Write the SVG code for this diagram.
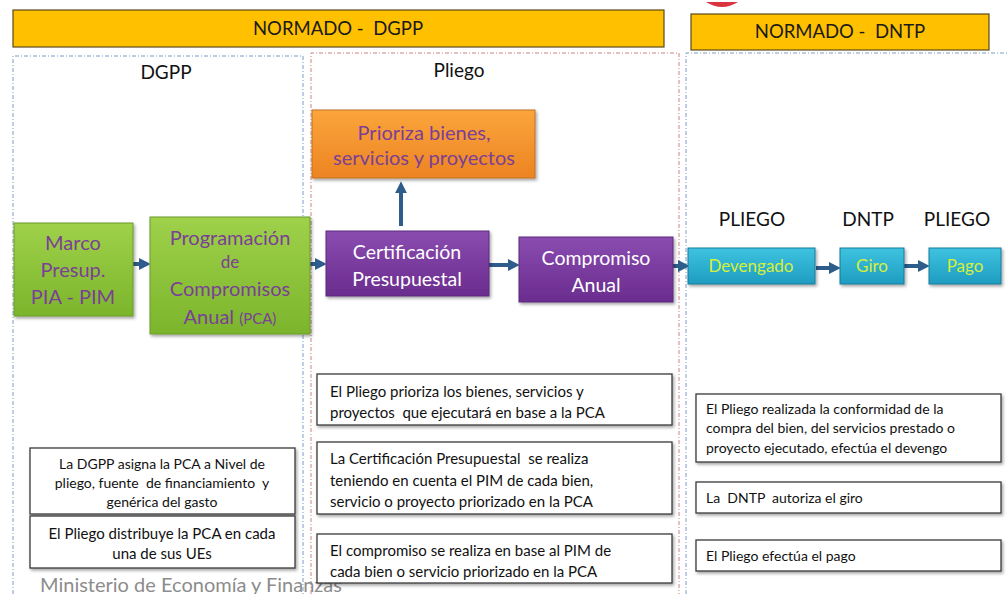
<svg xmlns="http://www.w3.org/2000/svg" width="1008" height="594" viewBox="0 0 1008 594">
<style>
text{font-family:Lato,"Noto Sans","Liberation Sans",sans-serif;white-space:pre}
.hdr{fill:#FFC000;stroke:#5a4a1a;stroke-width:1.2}
.ht{font-size:18.5px;fill:#1a1a1a;text-anchor:middle}
.col{fill:none;stroke-width:1;stroke-dasharray:4 2 1 2}
.lbl{font-size:19px;fill:#111;text-anchor:middle}
.gt{font-size:20px;fill:#7b3f96;text-anchor:middle}
.wt{font-size:19.5px;fill:#fff;text-anchor:middle}
.ct{font-size:17px;fill:#d4f03c;text-anchor:middle}
.nb{fill:#fff;stroke:#3a3a3a;stroke-width:1.3}
.nt{font-size:14px;fill:#111}
.ntc{font-size:14px;fill:#111;text-anchor:middle}
.con{stroke:#2e5d8c;stroke-width:4;fill:none;marker-end:url(#ah)}
</style>
<defs>
<marker id="ah" viewBox="0 0 10 10" refX="6" refY="5" markerWidth="3" markerHeight="3" orient="auto" markerUnits="strokeWidth"><path d="M0,0L10,5L0,10z" fill="#2e5d8c"/></marker>
<linearGradient id="gG" x1="0" y1="0" x2="0" y2="1"><stop offset="0" stop-color="#9fd14a"/><stop offset="1" stop-color="#7bb52c"/></linearGradient>
<linearGradient id="gP" x1="0" y1="0" x2="0" y2="1"><stop offset="0" stop-color="#8a4cb0"/><stop offset="1" stop-color="#6a2c8e"/></linearGradient>
<linearGradient id="gO" x1="0" y1="0" x2="0" y2="1"><stop offset="0" stop-color="#fba53c"/><stop offset="1" stop-color="#ec8422"/></linearGradient>
<linearGradient id="gC" x1="0" y1="0" x2="0" y2="1"><stop offset="0" stop-color="#3ec3e0"/><stop offset="1" stop-color="#1e9cc0"/></linearGradient>
<filter id="sh" x="-10%" y="-10%" width="130%" height="140%"><feDropShadow dx="1.5" dy="2" stdDeviation="1.5" flood-color="#000" flood-opacity="0.35"/></filter>
</defs>
<rect width="1008" height="594" fill="#fff"/>
<path d="M706,2 Q722,12 738,2 Z" fill="#d9343f"/>
<g id="header-dgpp"><rect class="hdr" x="13" y="10" width="651" height="37"/><text class="ht" x="338" y="35">NORMADO -  DGPP</text></g>
<g id="header-dntp"><rect class="hdr" x="691" y="14" width="298" height="36"/><text class="ht" x="840" y="38">NORMADO -  DNTP</text></g>
<g id="columns">
<path class="col" stroke="#7a9cc8" d="M13,594V56H303V594"/>
<path class="col" stroke="#d08080" d="M311,594V53H679V594"/>
<path class="col" stroke="#7a9cc8" d="M686,594V53H1008"/>
</g>
<text class="lbl" x="166" y="79">DGPP</text>
<text class="lbl" x="459" y="77">Pliego</text>
<text class="lbl" x="752" y="226">PLIEGO</text>
<text class="lbl" x="868" y="226">DNTP</text>
<text class="lbl" x="957" y="226">PLIEGO</text>
<g id="connectors">
<path class="con" d="M133,264H146"/>
<path class="con" d="M310,264H322"/>
<path class="con" d="M401,226V186"/>
<path class="con" d="M489,265H515"/>
<path class="con" d="M673,266H685"/>
<path class="con" d="M816,268H836"/>
<path class="con" d="M904,266H925"/>
</g>
<g id="marco"><rect x="14" y="223" width="119" height="93" fill="url(#gG)" stroke="#6a9a2a" filter="url(#sh)"/><text class="gt" x="73" y="250">Marco</text><text class="gt" x="73" y="277">Presup.</text><text class="gt" x="73" y="304">PIA - PIM</text></g>
<g id="programacion"><rect x="150" y="217" width="160" height="117" fill="url(#gG)" stroke="#6a9a2a" filter="url(#sh)"/><text class="gt" x="230" y="245">Programación</text><text class="gt" x="230" y="268" style="font-size:17px">de</text><text class="gt" x="230" y="296">Compromisos</text><text class="gt" x="230" y="324">Anual <tspan style="font-size:15px">(PCA)</tspan></text></g>
<g id="prioriza"><rect x="312" y="110" width="223" height="68" fill="url(#gO)" stroke="#c07020" filter="url(#sh)"/><text class="gt" x="424" y="140">Prioriza bienes,</text><text class="gt" x="424" y="165">servicios y proyectos</text></g>
<g id="certificacion"><rect x="326" y="231" width="163" height="65" fill="url(#gP)" stroke="#5a2a7a" filter="url(#sh)"/><text class="wt" x="407" y="259">Certificación</text><text class="wt" x="407" y="286">Presupuestal</text></g>
<g id="compromiso"><rect x="519" y="237" width="154" height="65" fill="url(#gP)" stroke="#5a2a7a" filter="url(#sh)"/><text class="wt" x="596" y="265">Compromiso</text><text class="wt" x="596" y="292">Anual</text></g>
<g id="devengado"><rect x="688" y="248" width="127" height="36" fill="url(#gC)" stroke="#1a7a9a" filter="url(#sh)"/><text class="ct" x="751" y="272">Devengado</text></g>
<g id="giro"><rect x="840" y="248" width="64" height="36" fill="url(#gC)" stroke="#1a7a9a" filter="url(#sh)"/><text class="ct" x="872" y="272">Giro</text></g>
<g id="pago"><rect x="929" y="248" width="72" height="36" fill="url(#gC)" stroke="#1a7a9a" filter="url(#sh)"/><text class="ct" x="965" y="272">Pago</text></g>
<g id="note-dgpp"><rect class="nb" x="30" y="448" width="265" height="66" filter="url(#sh)"/><text class="ntc" x="162" y="469">La DGPP asigna la PCA a Nivel de</text><text class="ntc" x="162" y="488">pliego, fuente  de financiamiento  y</text><text class="ntc" x="162" y="507">genérica del gasto</text></g>
<g id="note-distribuye"><rect class="nb" x="30" y="516" width="265" height="52" filter="url(#sh)"/><text class="ntc" x="162" y="539" style="font-size:15px">El Pliego distribuye la PCA en cada</text><text class="ntc" x="162" y="559" style="font-size:15px">una de sus UEs</text></g>
<text x="40" y="592" style="font-size:20px;fill:#8c8c8c">Ministerio de Economía y Finanzas</text>
<g id="note-prioriza"><rect class="nb" x="317" y="374" width="355" height="51" filter="url(#sh)"/><text class="nt" x="330" y="397" style="font-size:15px">El Pliego prioriza los bienes, servicios y</text><text class="nt" x="330" y="418" style="font-size:15px">proyectos  que ejecutará en base a la PCA</text></g>
<g id="note-certificacion"><rect class="nb" x="317" y="442" width="355" height="72" filter="url(#sh)"/><text class="nt" x="330" y="464" style="font-size:15px">La Certificación Presupuestal  se realiza</text><text class="nt" x="330" y="486" style="font-size:15px">teniendo en cuenta el PIM de cada bien,</text><text class="nt" x="330" y="507" style="font-size:15px">servicio o proyecto priorizado en la PCA</text></g>
<g id="note-compromiso"><rect class="nb" x="317" y="534" width="355" height="49" filter="url(#sh)"/><text class="nt" x="330" y="556" style="font-size:15px">El compromiso se realiza en base al PIM de</text><text class="nt" x="330" y="577" style="font-size:15px">cada bien o servicio priorizado en la PCA</text></g>
<g id="note-devengo"><rect class="nb" x="696" y="394" width="305" height="68" filter="url(#sh)"/><text class="nt" x="706" y="414">El Pliego realizada la conformidad de la</text><text class="nt" x="706" y="433">compra del bien, del servicios prestado o</text><text class="nt" x="706" y="453">proyecto ejecutado, efectúa el devengo</text></g>
<g id="note-giro"><rect class="nb" x="696" y="482" width="305" height="31" filter="url(#sh)"/><text class="nt" x="706" y="503">La  DNTP  autoriza el giro</text></g>
<g id="note-pago"><rect class="nb" x="696" y="540" width="305" height="31" filter="url(#sh)"/><text class="nt" x="706" y="561">El Pliego efectúa el pago</text></g>
</svg>
